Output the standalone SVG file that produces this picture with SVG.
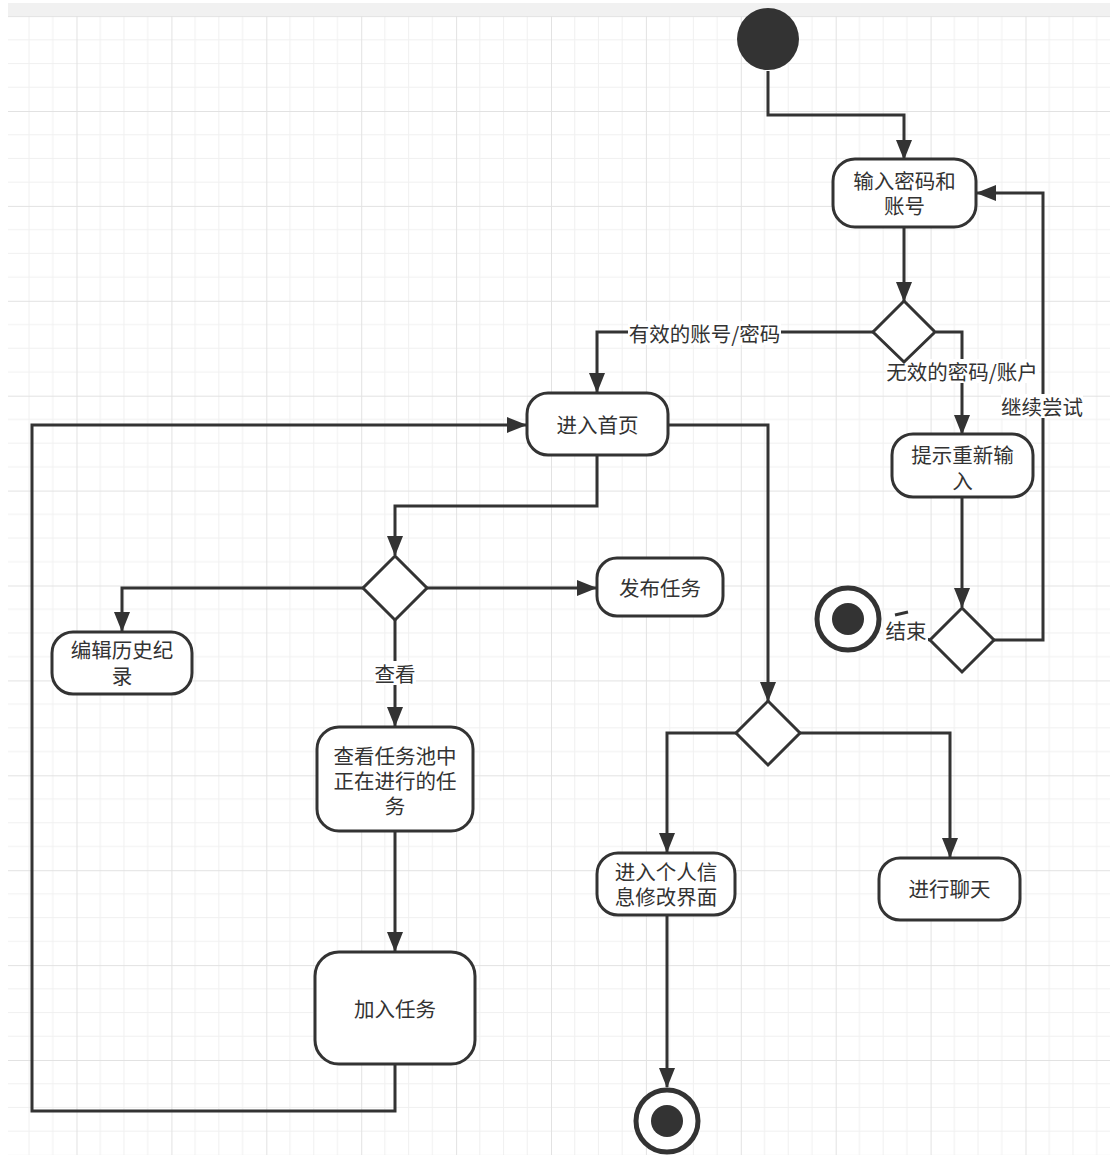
<svg xmlns="http://www.w3.org/2000/svg" width="1110" height="1155" viewBox="0 0 1110 1155">
<style>
.node{fill:#fff;stroke:#333;stroke-width:3}
.edge{fill:none;stroke:#333;stroke-width:3}
.arr{marker-end:url(#ah)}
.t{font-family:"Noto Sans CJK SC","Noto Sans",sans-serif;font-size:20.5px;fill:#333;text-anchor:middle;dominant-baseline:central}
.lbg{fill:#fff}
.minor{stroke:#f0f0f0;stroke-width:1}
.major{stroke:#e2e2e2;stroke-width:1}
</style>
<defs>
<marker id="ah" viewBox="0 0 20 16" refX="19" refY="8" markerWidth="20" markerHeight="16" markerUnits="userSpaceOnUse" orient="auto">
<path d="M0,0 L20,8 L0,16 Z" fill="#333"/>
</marker>
<pattern id="grid" patternUnits="userSpaceOnUse" x="76.5" y="16.1" width="94.9" height="94.9">
<line class="minor" x1="23.725" y1="0" x2="23.725" y2="94.9"/>
<line class="minor" x1="47.45" y1="0" x2="47.45" y2="94.9"/>
<line class="minor" x1="71.175" y1="0" x2="71.175" y2="94.9"/>
<line class="minor" x1="0" y1="23.725" x2="94.9" y2="23.725"/>
<line class="minor" x1="0" y1="47.45" x2="94.9" y2="47.45"/>
<line class="minor" x1="0" y1="71.175" x2="94.9" y2="71.175"/>
<line class="major" x1="0.5" y1="0" x2="0.5" y2="94.9"/>
<line class="major" x1="0" y1="0.5" x2="94.9" y2="0.5"/>
</pattern>
</defs>
<rect x="0" y="0" width="1110" height="1155" fill="#fff"/>
<rect x="8" y="3" width="1102" height="13" fill="#f1f1f1"/>
<rect x="8" y="16" width="1102" height="1139" fill="url(#grid)"/>

<g id="connectors">
<path class="edge arr" d="M768,71 V115 H904 V159"/>
<path class="edge arr" d="M904,227 V301"/>
<path class="edge arr" d="M873,332 H597 V392"/>
<path class="edge arr" d="M936,332 H962 V434"/>
<path class="edge arr" d="M962,497 V607"/>
<path class="edge arr" d="M994,640 H1043 V193 H977"/>
<path class="edge" d="M930,640 L890,630"/>
<line class="edge" x1="895" y1="615" x2="908" y2="612" stroke-width="2"/>
<path class="edge arr" d="M597,455 V506 H395 V555"/>
<path class="edge arr" d="M363,588 H122 V631"/>
<path class="edge arr" d="M427,588 H596"/>
<path class="edge arr" d="M395,620 V726"/>
<path class="edge arr" d="M395,831 V951"/>
<path class="edge arr" d="M395,1064 V1111 H32 V425 H526"/>
<path class="edge arr" d="M668,425 H768 V701"/>
<path class="edge arr" d="M736,733 H667 V852"/>
<path class="edge arr" d="M800,733 H950 V857"/>
<path class="edge arr" d="M667,915 V1087"/>
<rect class="lbg" x="628" y="321" width="153" height="24"/>
<text class="t" x="704.5" y="333">有效的账号/密码</text>
<rect class="lbg" x="886" y="359" width="153" height="24"/>
<text class="t" x="962" y="371">无效的密码/账户</text>
<rect class="lbg" x="1001" y="394" width="82" height="24"/>
<text class="t" x="1042" y="406">继续尝试</text>
<rect class="lbg" x="884" y="618" width="44" height="25"/>
<text class="t" x="906" y="630">结束</text>
<rect class="lbg" x="374" y="661" width="42" height="24"/>
<text class="t" x="395" y="673">查看</text>
</g>

<g id="start">
<circle cx="768" cy="39" r="31" fill="#333"/>
</g>
<g id="input">
<rect class="node" x="833" y="159" width="143" height="68" rx="22"/>
<text class="t"><tspan x="904.5" y="180">输入密码和</tspan><tspan x="904.5" y="205">账号</tspan></text>
</g>
<g id="d1">
<path class="node" d="M904,301 L935,332 L904,362 L873,332 Z"/>
</g>
<g id="retry">
<rect class="node" x="892" y="434" width="141" height="63" rx="21"/>
<text class="t"><tspan x="962.5" y="454">提示重新输</tspan><tspan x="962.5" y="480">入</tspan></text>
</g>
<g id="d3">
<path class="node" d="M962,608 L994,640 L962,672 L930,640 Z"/>
</g>
<g id="end1">
<circle cx="848" cy="619" r="31" fill="#fff" stroke="#333" stroke-width="5"/>
<circle cx="848" cy="619" r="16" fill="#333"/>
</g>
<g id="home">
<rect class="node" x="527" y="393" width="141" height="62" rx="21"/>
<text class="t" x="597.5" y="424">进入首页</text>
</g>
<g id="d2">
<path class="node" d="M395,556 L427,588 L395,620 L363,588 Z"/>
</g>
<g id="history">
<rect class="node" x="52" y="632" width="140" height="62" rx="21"/>
<text class="t"><tspan x="122" y="649">编辑历史纪</tspan><tspan x="122" y="675">录</tspan></text>
</g>
<g id="publish">
<rect class="node" x="597" y="558" width="126" height="58" rx="20"/>
<text class="t" x="660" y="587">发布任务</text>
</g>
<g id="viewpool">
<rect class="node" x="317" y="727" width="156" height="104" rx="22"/>
<text class="t"><tspan x="395" y="755">查看任务池中</tspan><tspan x="395" y="780">正在进行的任</tspan><tspan x="395" y="805">务</tspan></text>
</g>
<g id="join">
<rect class="node" x="315" y="952" width="160" height="112" rx="24"/>
<text class="t" x="395" y="1008">加入任务</text>
</g>
<g id="d4">
<path class="node" d="M768,701 L800,733 L768,765 L736,733 Z"/>
</g>
<g id="profile">
<rect class="node" x="597" y="853" width="138" height="62" rx="21"/>
<text class="t"><tspan x="666" y="871">进入个人信</tspan><tspan x="666" y="896">息修改界面</tspan></text>
</g>
<g id="chat">
<rect class="node" x="879" y="858" width="141" height="62" rx="21"/>
<text class="t" x="949.5" y="888">进行聊天</text>
</g>
<g id="end2">
<circle cx="667" cy="1121" r="31" fill="#fff" stroke="#333" stroke-width="5"/>
<circle cx="667" cy="1121" r="16" fill="#333"/>
</g>
</svg>
